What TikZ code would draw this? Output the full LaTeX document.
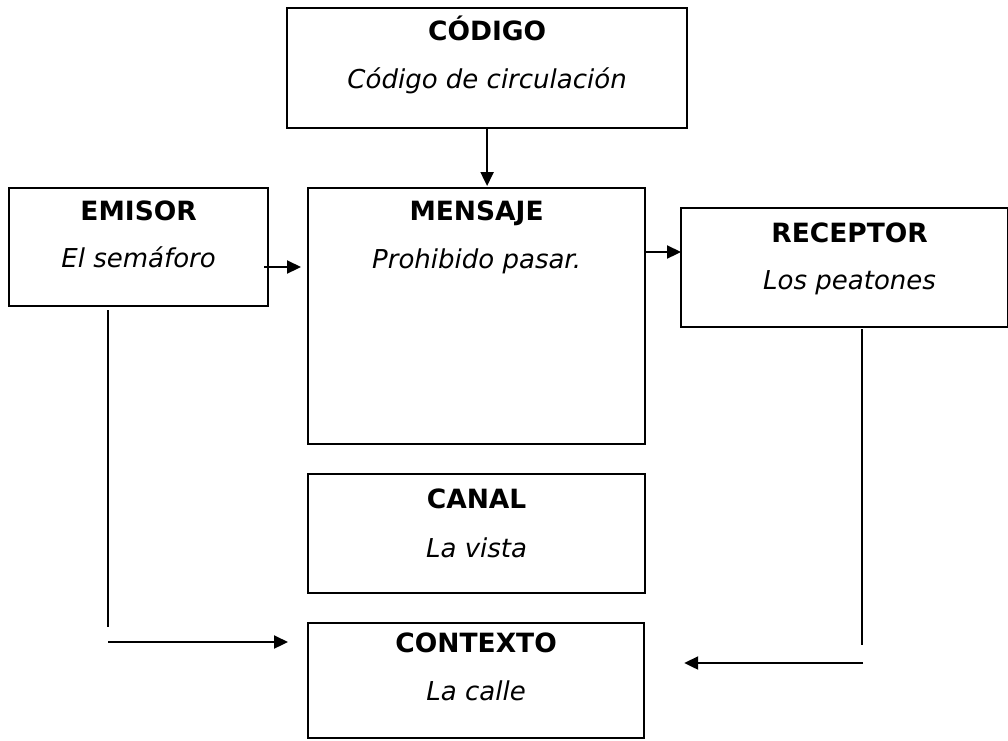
\documentclass[tikz,border=0pt]{standalone}
\usepackage{fontspec}
\setmainfont{DejaVu Sans}
\usetikzlibrary{arrows.meta,calc}
\begin{document}
\begin{tikzpicture}[x=1pt,y=-1pt,
  box/.style={draw, line width=2.2pt, rectangle, inner sep=0pt, anchor=north west},
  ttl/.style={font=\fontsize{26.5}{30}\selectfont\bfseries, anchor=base, inner sep=0pt},
  sub/.style={font=\fontsize{26}{30}\selectfont\itshape, anchor=base, inner sep=0pt},
  arr/.style={line width=2.2pt, -{Triangle[length=14pt,width=13pt]}},
  ln/.style={line width=2.2pt}]
\fill[white] (0,0) rectangle (1008,740);
\useasboundingbox (0,0) rectangle (1008,740);
% boxes
\node[box, minimum width=400pt, minimum height=120pt] (codigo) at (286,7) {};
\node[box, minimum width=259pt, minimum height=118pt] (emisor) at (8,187) {};
\node[box, minimum width=337pt, minimum height=256pt] (mensaje) at (307,187) {};
\node[box, minimum width=327pt, minimum height=119pt] (receptor) at (680,207) {};
\node[box, minimum width=337pt, minimum height=119pt] (canal) at (307,473) {};
\node[box, minimum width=336pt, minimum height=115pt] (contexto) at (307,622) {};
% texts
\node[ttl] (codigoT) at ($(codigo.north)+(0,33)$) {CÓDIGO};
\node[sub] (codigoS) at ($(codigoT.base)+(0,48)$) {Código de circulación};
\node[ttl] (emisorT) at ($(emisor.north)+(0,33)$) {EMISOR};
\node[sub] (emisorS) at ($(emisorT.base)+(0,47)$) {El semáforo};
\node[ttl] (mensajeT) at ($(mensaje.north)+(0,33)$) {MENSAJE};
\node[sub] (mensajeS) at ($(mensajeT.base)+(0,48)$) {Prohibido pasar.};
\node[ttl] (receptorT) at ($(receptor.north)+(5,35)$) {RECEPTOR};
\node[sub] (receptorS) at ($(receptorT.base)+(0,47)$) {Los peatones};
\node[ttl] (canalT) at ($(canal.north)+(0,35)$) {CANAL};
\node[sub] (canalS) at ($(canalT.base)+(0,49)$) {La vista};
\node[ttl] (contextoT) at ($(contexto.north)+(0,30)$) {CONTEXTO};
\node[sub] (contextoS) at ($(contextoT.base)+(0,48)$) {La calle};
% connector end points
\coordinate (eStart) at ($(emisor.north east)+(-5,80)$);
\coordinate (mEnd) at ($(mensaje.north west)+(-6,80)$);
\coordinate (mStart) at ($(mensaje.north east)+(0,65)$);
\coordinate (rEnd) at ($(receptor.north west)+(1,45)$);
\coordinate (eDownA) at ($(emisor.south west)+(100,3)$);
\coordinate (eDownB) at ($(emisor.south west)+(100,320)$);
\coordinate (cLeftA) at ($(contexto.north west)+(-199,20)$);
\coordinate (cLeftB) at ($(contexto.north west)+(-19,20)$);
\coordinate (rDownA) at ($(receptor.south west)+(182,1)$);
\coordinate (rDownB) at ($(receptor.south west)+(182,317)$);
\coordinate (cRightA) at ($(contexto.north east)+(218,41)$);
\coordinate (cRightB) at ($(contexto.north east)+(39,41)$);
% connectors
\draw[arr] (codigo.south) -- ($(codigo.south |- mensaje.north)+(0,-1)$);
\draw[arr] (eStart) -- (mEnd);
\draw[arr] (mStart) -- (rEnd);
\draw[ln] (eDownA) -- (eDownB);
\draw[arr] (cLeftA) -- (cLeftB);
\draw[ln] (rDownA) -- (rDownB);
\draw[arr] (cRightA) -- (cRightB);
\end{tikzpicture}
\end{document}
